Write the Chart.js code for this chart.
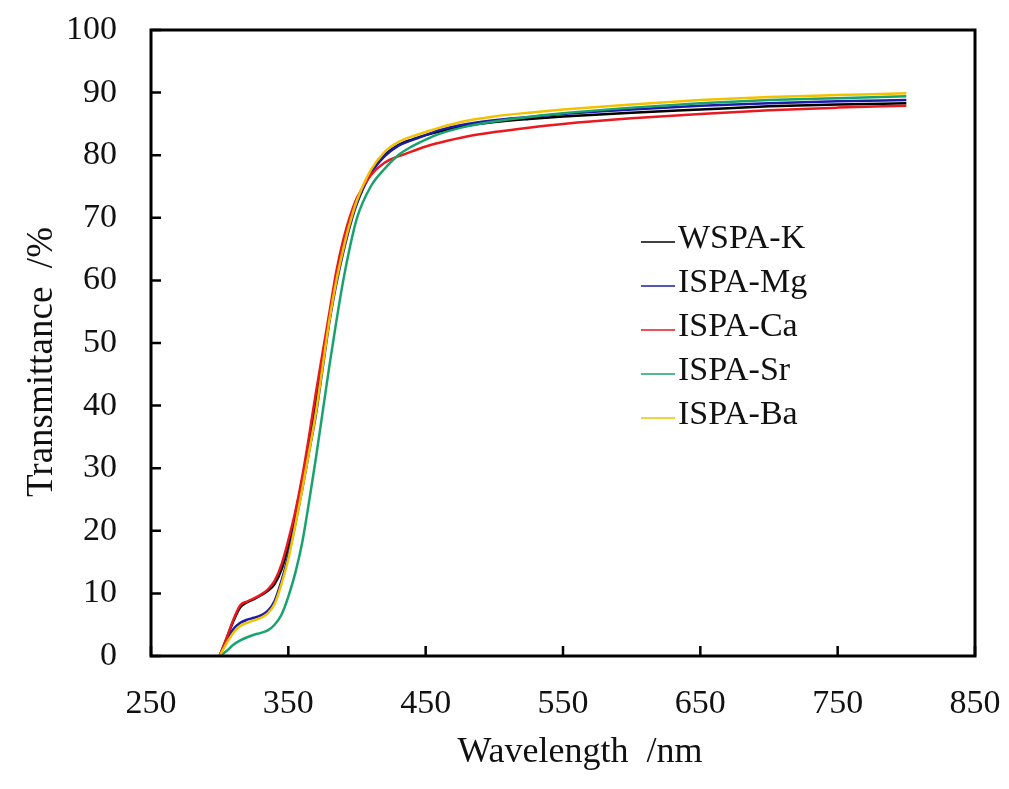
<!DOCTYPE html>
<html>
<head>
<meta charset="utf-8">
<script src="https://cdn.jsdelivr.net/npm/chart.js@4/dist/chart.umd.min.js"></script>
<style>
  body { margin: 0; background: #fff; }
  #wrap { width: 1009px; height: 789px; }
</style>
</head>
<body>
<div id="wrap"><canvas id="myChart" width="1009" height="789"></canvas></div>
<script>
// 波長 (nm)
let wavelength = [300,305,310,315,320,325,330,335,340,345,350,355,360,365,370,375,380,385,390,395,400,410,420,430,440,450,460,480,500,525,550,600,650,700,750,800];

// 透過率 (%)
let wspa_k  = [0,2.8,5.6,7.8,8.6,9.1,9.7,10.4,11.5,13.8,17.5,22.5,28,34,40,47,54,60,65,69.2,72.5,77.2,80,81.6,82.5,83.2,83.8,84.7,85.3,85.8,86.2,86.8,87.3,87.8,88.1,88.3];
let ispa_mg = [0,2.5,4.3,5.3,5.8,6.1,6.5,7.2,8.8,12,16,21,26.5,32.5,38.5,46,53.5,59.5,64.5,68.8,72.3,77,79.8,81.5,82.4,83.2,84,85,85.6,86.1,86.6,87.3,87.9,88.3,88.6,88.8];
let ispa_ca = [0,2.8,5.8,8.1,8.7,9.2,9.8,10.6,12,14.6,18.5,23,28.5,35,42,48.5,55,61.5,66.5,70.3,73.2,76.8,78.8,79.8,80.6,81.4,82,83,83.7,84.4,85,85.9,86.6,87.2,87.6,87.9];
let ispa_sr = [0,0.8,1.8,2.5,3,3.4,3.7,4.1,5,6.6,9.5,13.2,18,24.5,31.5,39,46.5,53.5,60,65.5,70,75,77.8,80,81.4,82.5,83.4,84.6,85.4,86.1,86.7,87.6,88.3,88.8,89.1,89.4];
let ispa_ba = [0,2,3.7,4.8,5.3,5.7,6.1,6.8,8.3,11.5,15.5,20.8,26.5,32.5,38.8,46.3,53.8,60,65,69.3,72.8,77.6,80.5,82.1,83,83.7,84.4,85.5,86.2,86.8,87.3,88.1,88.8,89.3,89.6,89.9];

let labels = ["WSPA-K","ISPA-Mg","ISPA-Ca","ISPA-Sr","ISPA-Ba"];
let values = [wspa_k, ispa_mg, ispa_ca, ispa_sr, ispa_ba];
let color = ["#000000","#1c1ca8","#e8191f","#17a36b","#f2c200"];

let xTicks = [250,350,450,550,650,750,850];
let yTicks = [0,10,20,30,40,50,60,70,80,90,100];
let xTitle = "Wavelength  /nm";
let yTitle = "Transmittance  /%";

const FONT = "'Liberation Serif', 'Times New Roman', serif";

// 内向きの目盛りと枠線
const frameTicks = {
  id: "frameTicks",
  afterDatasetsDraw(chart){
    const ctx = chart.ctx;
    const a = chart.chartArea;
    const sx = chart.scales.x, sy = chart.scales.y;
    ctx.save();
    ctx.strokeStyle = "#000";
    ctx.lineWidth = 2.5;
    ctx.beginPath();
    xTicks.forEach((v)=>{
      const px = sx.getPixelForValue(v);
      ctx.moveTo(px, a.bottom);
      ctx.lineTo(px, a.bottom - 10);
    });
    yTicks.forEach((v)=>{
      const py = sy.getPixelForValue(v);
      ctx.moveTo(a.left, py);
      ctx.lineTo(a.left + 10, py);
    });
    ctx.stroke();
    ctx.lineWidth = 3;
    ctx.strokeRect(a.left, a.top, a.right - a.left, a.bottom - a.top);
    ctx.restore();
  }
};

// 軸タイトル (元の図では少しずれた位置にある)
const axisTitles = {
  id: "axisTitles",
  afterDraw(chart){
    const ctx = chart.ctx;
    ctx.save();
    ctx.fillStyle = "#111";
    ctx.textAlign = "center";
    ctx.textBaseline = "middle";
    ctx.font = "36px " + FONT;
    ctx.fillText(xTitle, 580, 753);
    ctx.translate(42, 362);
    ctx.rotate(-Math.PI / 2);
    ctx.font = "37px " + FONT;
    ctx.fillText(yTitle, 0, 0);
    ctx.restore();
  }
};

// 凡例 (グラフ内)
const innerLegend = {
  id: "innerLegend",
  afterDraw(chart){
    const ctx = chart.ctx;
    ctx.save();
    ctx.font = "34px " + FONT;
    ctx.textBaseline = "middle";
    ctx.textAlign = "left";
    chart.data.datasets.forEach((ds, i)=>{
      const y = 239 + i * 44;
      ctx.strokeStyle = ds.borderColor;
      ctx.lineWidth = 1.5;
      ctx.beginPath();
      ctx.moveTo(641, y + 3);
      ctx.lineTo(675, y + 3);
      ctx.stroke();
      ctx.fillStyle = "#111";
      ctx.fillText(ds.label, 678, y);
    });
    ctx.restore();
  }
};

let datasets = labels.map((name, i)=>({
  label: name,
  data: wavelength.map((w, j)=>({x: w, y: values[i][j]})),
  borderColor: color[i],
  backgroundColor: color[i],
  borderWidth: 2.5,
  pointRadius: 0,
  cubicInterpolationMode: "monotone",
  order: labels.length - 1 - i
}));

let config = {
  type: "line",
  data: { datasets: datasets },
  options: {
    responsive: false,
    animation: false,
    layout: { padding: { top: 30, right: 34, left: 0, bottom: 0 } },
    plugins: {
      legend: { display: false },
      tooltip: { enabled: false }
    },
    scales: {
      x: {
        type: "linear",
        min: 250,
        max: 850,
        afterBuildTicks: (s)=>{ s.ticks = xTicks.map((v)=>({value: v})); },
        afterFit: (s)=>{ s.height = 133; s.paddingLeft = 0; s.paddingRight = 0; },
        grid: { display: false, drawTicks: false },
        border: { display: false },
        ticks: { padding: 28, color: "#111", font: { family: FONT, size: 34 }, maxRotation: 0 }
      },
      y: {
        min: 0,
        max: 100,
        afterBuildTicks: (s)=>{ s.ticks = yTicks.map((v)=>({value: v})); },
        afterFit: (s)=>{ s.width = 151; s.paddingTop = 0; s.paddingBottom = 0; },
        grid: { display: false, drawTicks: false },
        border: { display: false },
        ticks: { padding: 34, color: "#111", font: { family: FONT, size: 34 } }
      }
    }
  },
  plugins: [frameTicks, axisTitles, innerLegend]
};

let myChart = new Chart(document.getElementById("myChart"), config);
</script>
</body>
</html>
